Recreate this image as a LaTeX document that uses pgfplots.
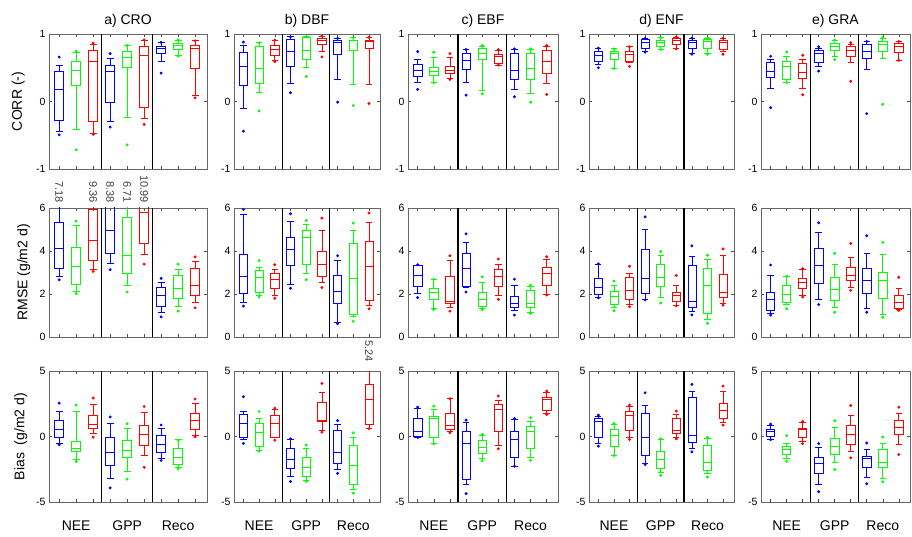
\documentclass[border=0pt]{standalone}
\usepackage{fontspec}
\setmainfont{Liberation Sans}
\usepackage{pgfplots}
\pgfplotsset{compat=1.18}
\usepgfplotslibrary{statistics}

\newcommand{\B}[9]{\addplot[draw=#2, color=#2, line width=0.7pt, mark=*, mark size=1.1pt,
  mark options={solid, draw=#2, fill=#2},
  boxplot/every box/.style={draw=#2, line width=0.7pt},
  boxplot/every median/.style={draw=#2, line width=0.7pt},
  boxplot/every whisker/.style={draw=#2, line width=0.7pt},
  boxplot prepared={draw direction=y, draw position=#1, lower whisker=#3, lower quartile=#4, median=#5,
  upper quartile=#6, upper whisker=#7, box extend=0.52, whisker extend=0.4}]
  table[row sep=\\, y index=0] {#8\\ #9\\};}
\newcommand{\seps}[2]{\draw[black, line width=1.3pt] (axis cs:3.5,#1) -- (axis cs:3.5,#2);
  \draw[black, line width=1.3pt] (axis cs:6.5,#1) -- (axis cs:6.5,#2);}

\pgfplotsset{
  every axis title/.style={at={(0.5,1)}, anchor=base, yshift=9pt, font=\fontsize{14}{16}\selectfont},
  every axis y label/.style={rotate=90, anchor=center, font=\fontsize{14}{16}\selectfont},
  panel/.style={scale only axis, anchor=south west, xmin=0.4, xmax=9.7,
    xtick={1,...,9}, xticklabels={}, tick align=inside, major tick length=3pt,
    axis line style={black!60, line width=0.9pt},
    every tick/.style={black!70, line width=0.5pt},
    yticklabel style={font=\fontsize{10.5}{12}\selectfont},
    clip=true},
  r1/.style={panel, ymin=-1, ymax=1, ytick={-1,0,1}, yticklabels={-1,0,1}, height=135pt},
  r2/.style={panel, ymin=0, ymax=6, ytick={0,2,4,6}, yticklabels={0,2,4,6}, height=129pt},
  r3/.style={panel, ymin=-5, ymax=5, ytick={-5,0,5}, yticklabels={-5,0,5}, height=131pt,
    extra x ticks={2,5,8}, extra x tick labels={NEE,GPP,Reco},
    extra x tick style={major tick length=0pt,
      xticklabel style={font=\fontsize{14}{16}\selectfont, yshift=-15pt}}},
}

\begin{document}
\begin{tikzpicture}
\useasboundingbox (0,0) rectangle (912pt,536pt);

% ================= ROW 1 : CORR =================
\begin{axis}[r1, at={(49pt,367pt)}, width=158pt, title={a) CRO},
  ylabel={CORR (-)}, ylabel style={at={(axis description cs:-0.195,0.5)}}]
\B{1}{blue}{-0.436}{-0.282}{0.18}{0.446}{0.542}{0.658}{-0.494}
\B{2}{green}{-0.42}{0.239}{0.465}{0.60}{0.73}{0.745}{-0.716}
\B{3}{red}{-0.475}{-0.29}{0.60}{0.76}{0.85}{0.865}{-0.485}
\B{4}{blue}{-0.30}{-0.007}{0.45}{0.54}{0.634}{0.71}{-0.378}
\B{5}{green}{-0.234}{0.513}{0.648}{0.75}{0.826}{0.83}{-0.643}
\B{6}{red}{-0.248}{-0.09}{0.687}{0.81}{0.90}{0.913}{-0.34}
\B{7}{blue}{0.60}{0.71}{0.783}{0.81}{0.875}{0.875}{0.42}
\B{8}{green}{0.687}{0.77}{0.827}{0.86}{0.913}{0.913}{0.67}
\B{9}{red}{0.094}{0.494}{0.783}{0.836}{0.90}{0.90}{0.055}
\seps{-1}{1}
\end{axis}

\begin{axis}[r1, at={(234pt,367pt)}, width=146pt, title={b) DBF}]
\B{1}{blue}{-0.10}{0.246}{0.519}{0.722}{0.83}{0.88}{-0.44}
\B{2}{green}{0.14}{0.265}{0.484}{0.82}{0.87}{0.87}{-0.14}
\B{3}{red}{0.61}{0.68}{0.77}{0.83}{0.91}{0.91}{0.59}
\B{4}{blue}{0.27}{0.52}{0.75}{0.92}{0.96}{0.96}{0.13}
\B{5}{green}{0.51}{0.63}{0.757}{0.945}{0.96}{0.96}{0.37}
\B{6}{red}{0.74}{0.84}{0.90}{0.93}{0.97}{0.97}{0.66}
\B{7}{blue}{0.33}{0.70}{0.87}{0.91}{0.935}{0.935}{-0.01}
\B{8}{green}{0.25}{0.76}{0.90}{0.91}{0.945}{0.945}{-0.06}
\B{9}{red}{0.26}{0.79}{0.89}{0.91}{0.95}{0.95}{-0.03}
\seps{-1}{1}
\end{axis}

\begin{axis}[r1, at={(408pt,367pt)}, width=150pt, title={c) EBF}]
\B{1}{blue}{0.277}{0.366}{0.46}{0.55}{0.63}{0.74}{0.18}
\B{2}{green}{0.287}{0.386}{0.45}{0.51}{0.66}{0.73}{0.277}
\B{3}{red}{0.34}{0.416}{0.465}{0.525}{0.66}{0.71}{0.327}
\B{4}{blue}{0.287}{0.475}{0.61}{0.71}{0.77}{0.77}{0.094}
\B{5}{green}{0.17}{0.62}{0.71}{0.78}{0.82}{0.83}{0.114}
\B{6}{red}{0.54}{0.56}{0.67}{0.70}{0.757}{0.77}{0.54}
\B{7}{blue}{0.18}{0.327}{0.46}{0.71}{0.77}{0.78}{0.07}
\B{8}{green}{0.114}{0.327}{0.485}{0.71}{0.77}{0.78}{-0.01}
\B{9}{red}{0.267}{0.416}{0.60}{0.76}{0.81}{0.83}{0.104}
\seps{-1}{1}
\end{axis}

\begin{axis}[r1, at={(589pt,367pt)}, width=145pt, title={d) ENF}]
\B{1}{blue}{0.545}{0.6}{0.68}{0.75}{0.79}{0.79}{0.50}
\B{2}{green}{0.49}{0.63}{0.71}{0.75}{0.78}{0.78}{0.49}
\B{3}{red}{0.58}{0.6}{0.70}{0.75}{0.81}{0.81}{0.52}
\B{4}{blue}{0.75}{0.78}{0.87}{0.92}{0.935}{0.935}{0.73}
\B{5}{green}{0.77}{0.81}{0.87}{0.91}{0.945}{0.945}{0.77}
\B{6}{red}{0.78}{0.84}{0.90}{0.93}{0.955}{0.955}{0.78}
\B{7}{blue}{0.72}{0.78}{0.87}{0.91}{0.94}{0.94}{0.70}
\B{8}{green}{0.71}{0.78}{0.89}{0.92}{0.94}{0.94}{0.70}
\B{9}{red}{0.74}{0.77}{0.87}{0.91}{0.94}{0.94}{0.70}
\seps{-1}{1}
\end{axis}

\begin{axis}[r1, at={(761pt,367pt)}, width=149pt, title={e) GRA}]
\B{1}{blue}{0.19}{0.365}{0.44}{0.574}{0.62}{0.67}{-0.09}
\B{2}{green}{0.28}{0.33}{0.52}{0.594}{0.67}{0.735}{0.28}
\B{3}{red}{0.19}{0.345}{0.43}{0.56}{0.625}{0.685}{0.10}
\B{4}{blue}{0.52}{0.574}{0.72}{0.76}{0.79}{0.81}{0.45}
\B{5}{green}{0.67}{0.76}{0.82}{0.86}{0.91}{0.91}{0.62}
\B{6}{red}{0.58}{0.67}{0.76}{0.81}{0.85}{0.87}{0.30}
\B{7}{blue}{0.47}{0.635}{0.75}{0.84}{0.89}{0.89}{-0.18}
\B{8}{green}{0.635}{0.74}{0.84}{0.89}{0.94}{0.95}{-0.04}
\B{9}{red}{0.61}{0.73}{0.81}{0.86}{0.89}{0.89}{0.61}
\seps{-1}{1}
\end{axis}

% ================= ROW 2 : RMSE =================
\begin{axis}[r2, at={(49pt,199pt)}, width=158pt,
  ylabel={RMSE (g/m2 d)}, ylabel style={at={(axis description cs:-0.16,0.5)}}]
\B{1}{blue}{2.81}{3.19}{4.125}{5.31}{7.18}{7.18}{2.66}
\B{2}{green}{2.14}{2.45}{3.27}{4.17}{5.19}{5.39}{2.02}
\B{3}{red}{3.16}{3.58}{4.48}{5.95}{9.36}{9.36}{3.05}
\B{4}{blue}{3.44}{3.89}{4.98}{6.3}{8.38}{8.38}{3.13}
\B{5}{green}{2.41}{2.97}{3.81}{5.58}{6.71}{6.71}{2.09}
\B{6}{red}{3.86}{4.36}{5.81}{6.5}{10.99}{10.99}{3.39}
\B{7}{blue}{1.125}{1.41}{1.95}{2.30}{2.53}{2.73}{0.94}
\B{8}{green}{1.41}{1.78}{2.27}{2.875}{3.125}{3.39}{1.2}
\B{9}{red}{1.625}{1.94}{2.41}{3.19}{3.52}{3.73}{1.36}
\seps{0}{6}
\coordinate (t1) at (axis cs:1,6);
\coordinate (t3) at (axis cs:3,6);
\coordinate (t4) at (axis cs:4,6);
\coordinate (t5) at (axis cs:5,6);
\coordinate (t6) at (axis cs:6,6);
\end{axis}
\foreach \c/\t in {t1/7.18, t3/9.36, t4/8.38, t5/6.71, t6/10.99}
  \node[rotate=-90, anchor=east, inner sep=0pt, font=\fontsize{11}{13}\selectfont, black!75] at ([yshift=5pt]\c) {\t};

\begin{axis}[r2, at={(234pt,199pt)}, width=146pt]
\B{1}{blue}{1.59}{2.02}{2.81}{3.83}{5.69}{5.94}{1.44}
\B{2}{green}{1.92}{2.1}{2.78}{3.1}{3.25}{3.55}{1.86}
\B{3}{red}{1.95}{2.25}{2.66}{2.97}{3.125}{3.36}{1.8}
\B{4}{blue}{2.45}{3.31}{4.06}{4.64}{5.375}{5.73}{2.27}
\B{5}{green}{2.97}{3.39}{4.64}{4.95}{5.22}{5.42}{2.66}
\B{6}{red}{2.53}{2.84}{3.36}{3.97}{4.98}{5.53}{2.3}
\B{7}{blue}{0.70}{1.55}{2.11}{2.875}{3.58}{3.78}{0.625}
\B{8}{green}{0.94}{1.05}{2.73}{4.375}{4.98}{5.3}{0.73}
\B{9}{red}{1.47}{1.70}{3.27}{4.45}{5.31}{5.77}{1.31}
\seps{0}{6}
\end{axis}

\begin{axis}[r2, at={(408pt,199pt)}, width=150pt]
\B{1}{blue}{2.02}{2.375}{2.89}{3.31}{3.34}{3.36}{1.83}
\B{2}{green}{1.31}{1.75}{2.06}{2.27}{2.66}{2.69}{1.28}
\B{3}{red}{1.36}{1.55}{1.67}{2.80}{3.58}{3.78}{1.2}
\B{4}{blue}{2.3}{2.375}{3.2}{3.89}{4.41}{4.8}{2.09}
\B{5}{green}{1.31}{1.44}{1.75}{2.09}{2.53}{2.80}{1.28}
\B{6}{red}{1.95}{2.375}{2.84}{3.125}{3.39}{3.625}{1.75}
\B{7}{blue}{1.25}{1.36}{1.56}{1.875}{2.41}{2.69}{1.02}
\B{8}{green}{1.125}{1.36}{1.56}{2.19}{2.375}{2.41}{1.10}
\B{9}{red}{1.98}{2.41}{2.97}{3.23}{3.625}{3.73}{1.95}
\seps{0}{6}
\end{axis}

\begin{axis}[r2, at={(589pt,199pt)}, width=145pt]
\B{1}{blue}{1.84}{1.99}{2.30}{2.72}{3.37}{3.40}{1.82}
\B{2}{green}{1.38}{1.53}{1.88}{2.11}{2.42}{2.60}{1.22}
\B{3}{red}{1.53}{1.76}{2.19}{2.755}{2.95}{3.29}{1.41}
\B{4}{blue}{1.73}{2.04}{2.71}{4.06}{5.0}{5.59}{1.72}
\B{5}{green}{1.84}{2.34}{2.755}{3.37}{3.80}{3.98}{1.58}
\B{6}{red}{1.48}{1.65}{1.94}{2.07}{2.42}{2.86}{1.45}
\B{7}{blue}{1.18}{1.38}{1.64}{3.34}{3.75}{4.24}{1.03}
\B{8}{green}{0.81}{1.12}{2.40}{3.17}{3.60}{3.80}{0.64}
\B{9}{red}{1.56}{1.84}{2.10}{2.91}{3.80}{4.10}{1.48}
\seps{0}{6}
\end{axis}

\begin{axis}[r2, at={(761pt,199pt)}, width=149pt]
\B{1}{blue}{1.08}{1.25}{1.74}{2.09}{2.85}{3.35}{1.02}
\B{2}{green}{1.51}{1.62}{1.97}{2.38}{2.815}{2.82}{1.31}
\B{3}{red}{1.92}{2.28}{2.55}{2.74}{3.15}{3.18}{1.86}
\B{4}{blue}{1.77}{2.51}{3.35}{4.12}{4.85}{5.31}{1.51}
\B{5}{green}{1.38}{1.69}{2.2}{2.78}{3.4}{3.89}{1.15}
\B{6}{red}{2.31}{2.615}{2.86}{3.25}{3.71}{4.35}{2.17}
\B{7}{blue}{1.35}{2.05}{2.63}{3.17}{3.89}{4.71}{1.15}
\B{8}{green}{1.05}{1.78}{2.63}{3.015}{3.85}{4.4}{0.92}
\B{9}{red}{1.28}{1.31}{1.63}{1.94}{2.28}{2.78}{1.23}
\seps{0}{6}
\end{axis}

% ================= ROW 3 : Bias =================
\begin{axis}[r3, at={(49pt,34pt)}, width=158pt,
  ylabel={Bias\ \ (g/m2 d)}, ylabel style={at={(axis description cs:-0.178,0.5)}}]
\B{1}{blue}{-0.54}{-0.03}{0.54}{1.24}{1.91}{2.55}{-0.62}
\B{2}{green}{-1.78}{-1.13}{-0.88}{-0.36}{1.91}{2.40}{-1.91}
\B{3}{red}{0.23}{0.62}{0.93}{1.62}{2.42}{2.94}{-0.05}
\B{4}{blue}{-3.20}{-2.24}{-1.21}{-0.05}{0.98}{1.49}{-3.92}
\B{5}{green}{-2.68}{-1.57}{-1.06}{-0.31}{0.59}{0.98}{-3.25}
\B{6}{red}{-1.44}{-0.67}{0.15}{0.85}{1.88}{2.29}{-2.35}
\B{7}{blue}{-1.65}{-1.21}{-0.62}{0.08}{0.62}{0.88}{-1.83}
\B{8}{green}{-2.35}{-2.16}{-1.60}{-0.88}{-0.23}{-0.28}{-2.47}
\B{9}{red}{0.08}{0.54}{1.24}{1.75}{2.53}{2.86}{-0.03}
\seps{-5}{5}
\end{axis}

\begin{axis}[r3, at={(234pt,34pt)}, width=146pt]
\B{1}{blue}{-0.23}{-0.10}{1.03}{1.66}{1.91}{3.04}{-0.53}
\B{2}{green}{-1.03}{-0.73}{0.33}{1.03}{1.41}{1.91}{-1.11}
\B{3}{red}{-0.10}{-0.05}{0.98}{1.61}{2.04}{2.16}{-0.28}
\B{4}{blue}{-3.07}{-2.44}{-1.73}{-0.93}{-0.23}{-0.18}{-3.44}
\B{5}{green}{-3.37}{-3.07}{-2.36}{-1.61}{-0.93}{-0.65}{-3.42}
\B{6}{red}{0.45}{1.16}{1.23}{2.61}{3.37}{4.05}{0.33}
\B{7}{blue}{-2.54}{-2.04}{-1.23}{0.45}{0.95}{1.21}{-2.81}
\B{8}{green}{-4.0}{-3.62}{-2.24}{-0.65}{-0.03}{0.28}{-4.32}
\B{9}{red}{0.60}{0.95}{2.86}{3.97}{5.24}{5.24}{0.60}
\seps{-5}{5}
\coordinate (u9) at (axis cs:9,5);
\end{axis}
\node[rotate=-90, anchor=east, inner sep=0pt, font=\fontsize{11}{13}\selectfont, black!75] at ([yshift=9pt]u9) {5.24};

\begin{axis}[r3, at={(408pt,34pt)}, width=150pt]
\B{1}{blue}{-0.03}{0.03}{0.36}{1.35}{2.14}{2.24}{-0.08}
\B{2}{green}{-0.56}{-0.03}{1.35}{1.56}{2.07}{2.32}{-0.56}
\B{3}{red}{0.36}{0.54}{0.87}{1.73}{2.88}{2.88}{0.28}
\B{4}{blue}{-3.67}{-3.24}{-0.54}{0.36}{1.10}{1.25}{-4.36}
\B{5}{green}{-1.63}{-1.30}{-0.82}{-0.31}{0.10}{0.15}{-1.84}
\B{6}{red}{-0.66}{0.36}{2.07}{2.45}{2.78}{3.09}{-0.94}
\B{7}{blue}{-2.27}{-1.56}{-0.23}{0.41}{1.30}{1.38}{-2.27}
\B{8}{green}{-1.58}{-0.92}{0.41}{0.79}{1.17}{1.43}{-1.81}
\B{9}{red}{1.76}{2.02}{2.83}{2.96}{3.34}{3.47}{1.68}
\seps{-5}{5}
\end{axis}

\begin{axis}[r3, at={(589pt,34pt)}, width=145pt]
\B{1}{blue}{-0.54}{-0.05}{1.17}{1.35}{1.56}{1.63}{-0.74}
\B{2}{green}{-1.43}{-0.74}{0.10}{0.54}{0.92}{1.0}{-1.45}
\B{3}{red}{-0.03}{0.48}{1.63}{1.94}{2.27}{2.40}{-0.23}
\B{4}{blue}{-2.02}{-1.43}{-0.03}{1.73}{2.40}{3.34}{-2.14}
\B{5}{green}{-2.73}{-2.40}{-1.71}{-1.17}{-0.23}{-0.18}{-2.96}
\B{6}{red}{-0.10}{0.23}{0.46}{1.35}{1.68}{1.94}{-0.18}
\B{7}{blue}{-0.92}{-0.48}{0.10}{2.96}{3.42}{3.98}{-1.17}
\B{8}{green}{-2.83}{-2.58}{-1.94}{-0.66}{-0.15}{-0.05}{-3.09}
\B{9}{red}{1.05}{1.35}{1.99}{2.50}{3.47}{3.85}{0.87}
\seps{-5}{5}
\end{axis}

\begin{axis}[r3, at={(761pt,34pt)}, width=149pt]
\B{1}{blue}{-0.19}{0.01}{0.39}{0.57}{0.82}{0.95}{-0.24}
\B{2}{green}{-1.63}{-1.38}{-1.0}{-0.75}{-0.54}{0.06}{-1.89}
\B{3}{red}{-0.37}{-0.04}{0.52}{0.65}{1.08}{1.15}{-0.54}
\B{4}{blue}{-3.66}{-2.82}{-2.06}{-1.56}{-0.82}{-0.54}{-4.21}
\B{5}{green}{-2.01}{-1.38}{-0.75}{-0.11}{0.70}{1.20}{-2.52}
\B{6}{red}{-1.13}{-0.62}{0.19}{0.85}{1.61}{2.37}{-1.63}
\B{7}{blue}{-3.10}{-2.39}{-1.68}{-1.51}{-0.95}{-0.49}{-3.61}
\B{8}{green}{-3.2}{-2.39}{-1.96}{-1.0}{-0.54}{-0.04}{-3.46}
\B{9}{red}{-0.57}{0.14}{0.72}{1.20}{1.73}{2.24}{-1.38}
\seps{-5}{5}
\end{axis}
\end{tikzpicture}
\end{document}
